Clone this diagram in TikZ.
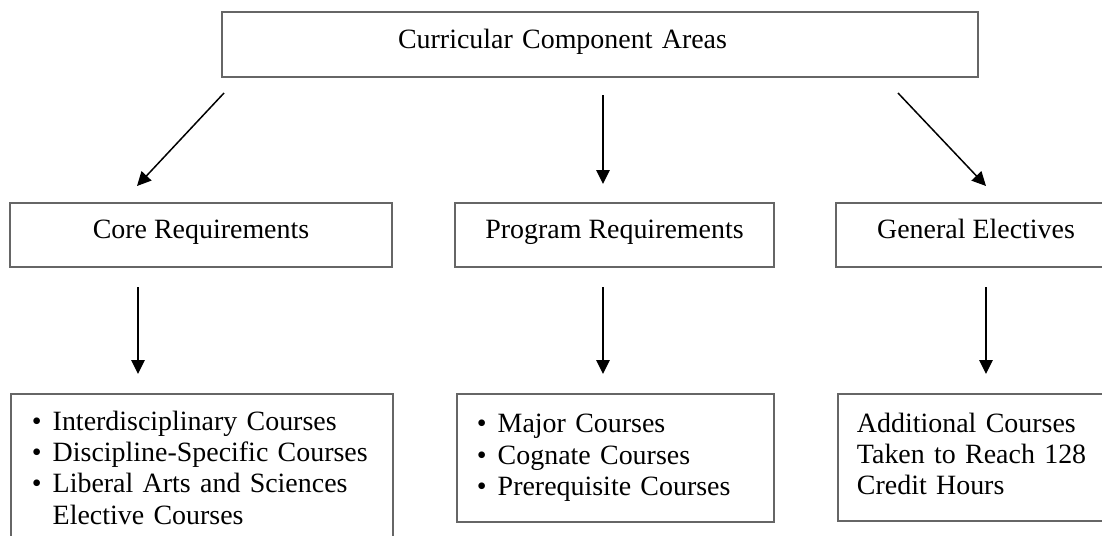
\documentclass[tikz,border=0pt]{standalone}
\usepackage{fontspec}
\setmainfont{Liberation Serif}
\usetikzlibrary{arrows.meta}

\tikzset{
  box/.style={draw=black!60,line width=1.1pt,minimum height=1.29cm,inner sep=0pt,
    text height=10pt,text depth=5.5pt,font=\fontsize{15.9}{17.8}\selectfont},
  listbox/.style={draw=black!60,line width=1.1pt,inner sep=0pt,anchor=north west,align=left,
    font=\fontsize{15.9}{17.8}\selectfont},
  arr/.style={->,line width=0.85pt}
}

\begin{document}
\begin{tikzpicture}[x=0.02cm,y=-0.02cm,>={Triangle[length=0.28cm,width=0.27cm]}]
\useasboundingbox (0,0) rectangle (1102,535);
% top
\node[box,minimum width=15.12cm,text width=8.08cm,inner xsep=3.52cm,align=left] (areas) at (600,44.5) {Curricular Component Areas};
% middle row
\node[box,minimum width=7.64cm] (core) at (201,235) {Core Requirements};
\node[box,minimum width=6.38cm] (prog) at (614.5,235) {Program Requirements};
\node[box,minimum width=5.6cm] (elec) at (976,235) {General Electives};
% lists
\node[listbox,text width=6.8cm,inner xsep=0.42cm,minimum height=3.08cm] (corelist) at (10,393)
  {\begin{tabular}{@{}l@{\hspace{0.22cm}}l@{}}
   \textbullet & Interdisciplinary Courses\\
   \textbullet & Discipline-Specific Courses\\
   \textbullet & Liberal Arts and Sciences\\
               & Elective Courses
   \end{tabular}};
\node[listbox,text width=5.54cm,inner xsep=0.4cm,minimum height=2.56cm] (proglist) at (456,393)
  {\raisebox{0.12cm}{\begin{tabular}{@{}l@{\hspace{0.22cm}}l@{}}
   \textbullet & Major Courses\\
   \textbullet & Cognate Courses\\
   \textbullet & Prerequisite Courses
   \end{tabular}}};
\node[listbox,text width=4.84cm,inner xsep=0.38cm,minimum height=2.54cm] (eleclist) at (837,393)
  {\raisebox{0.12cm}{\begin{tabular}{@{}l@{}}
   Additional Courses\\
   Taken to Reach 128\\
   Credit Hours
   \end{tabular}}};
% arrow ends
\coordinate (s1) at (224,93);  \coordinate (e1) at (137,186);
\coordinate (s2) at (603,95);  \coordinate (e2) at (603,184);
\coordinate (s3) at (898,93);  \coordinate (e3) at (986,186);
\coordinate (s4) at (138,287); \coordinate (e4) at (138,374);
\coordinate (s5) at (603,287); \coordinate (e5) at (603,374);
\coordinate (s6) at (986,287); \coordinate (e6) at (986,374);
\draw[arr] (s1)--(e1);
\draw[arr] (s2)--(e2);
\draw[arr] (s3)--(e3);
\draw[arr] (s4)--(e4);
\draw[arr] (s5)--(e5);
\draw[arr] (s6)--(e6);
\end{tikzpicture}
\end{document}
